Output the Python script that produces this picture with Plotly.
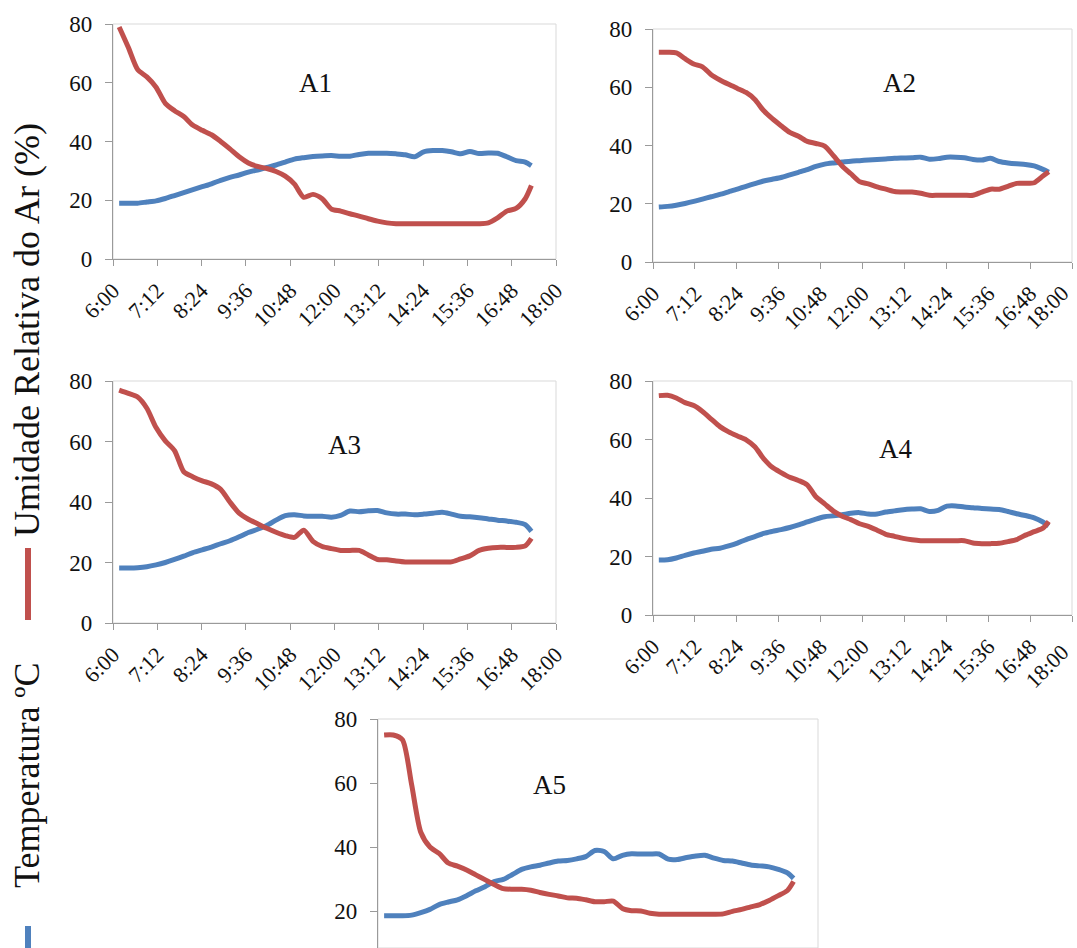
import plotly.graph_objects as go

# Measurement times (HH:MM), shared by the five sites
times = ["06:10", "06:25", "06:40", "06:55", "07:10", "07:25", "07:40", "07:55",
         "08:10", "08:25", "08:40", "08:55", "09:10", "09:25", "09:40", "09:55",
         "10:10", "10:25", "10:40", "10:55", "11:10", "11:25", "11:40", "11:55",
         "12:10", "12:25", "12:40", "12:55", "13:10", "13:25", "13:40", "13:55",
         "14:10", "14:25", "14:40", "14:55", "15:10", "15:25", "15:40", "15:55",
         "16:10", "16:25", "16:40", "16:55", "17:10", "17:20"]

# Relative air humidity (%)
rh_a1 = [79, 72, 64.5, 62, 58.5, 53, 50.5, 48.5, 45.5, 43.8, 42.3, 40, 37.5, 34.8, 32.7, 31.5,
         30.8, 29.8, 28.2, 25.5, 21, 22, 20.5, 17, 16.3, 15.4, 14.6, 13.7, 12.9, 12.3, 12, 12,
         12, 12, 12, 12, 12, 12, 12, 12, 12.3, 14, 16.3, 17.2, 20.5, 25]
rh_a2 = [72, 72, 71.8, 69.8, 68, 67, 64.3, 62.5, 61, 59.6, 58.2, 55.8, 52, 49.2, 46.8, 44.5,
         43.2, 41.4, 40.7, 39.8, 36.5, 33, 30.3, 27.6, 26.8, 25.8, 25, 24.2, 24, 24, 23.6, 22.9,
         22.9, 22.9, 22.9, 22.9, 22.9, 24, 25, 25, 26, 27, 27, 27.2, 29.5, 31]
rh_a3 = [77, 75.9, 74.7, 71, 64.6, 60.2, 57, 50, 48.3, 47, 46, 44.2, 40, 36.3, 34.3, 32.8,
         31.3, 30, 28.9, 28.3, 30.7, 27, 25.3, 24.6, 24, 24, 24, 22.5, 21, 20.9, 20.5, 20.2,
         20.2, 20.2, 20.2, 20.2, 20.2, 21.2, 22.2, 24, 24.7, 25, 25, 25, 25.5, 28]
rh_a4 = [75, 75.1, 74.2, 72.6, 71.6, 69.6, 67, 64.4, 62.6, 61.2, 59.9, 57.5, 53.5, 50.5, 48.7, 47.1,
         46, 44.5, 40.4, 38, 35.5, 33.8, 32.6, 31.2, 30.3, 29, 27.6, 26.9, 26.2, 25.7, 25.4, 25.4,
         25.4, 25.4, 25.4, 25.4, 24.6, 24.4, 24.4, 24.5, 25.1, 25.8, 27.3, 28.5, 29.7, 32]
rh_a5 = [75, 75, 73.5, 59.5, 44.6, 40, 38, 35, 34, 32.8, 31.3, 29.8, 28.3, 27, 26.8, 26.8,
         26.5, 25.8, 25.2, 24.7, 24.1, 24, 23.5, 22.9, 22.9, 23.1, 20.8, 20.1, 20, 19.3, 19, 19,
         19, 19, 19, 19, 19, 19.1, 19.9, 20.5, 21.3, 22, 23.3, 24.8, 26.4, 29.2]

# Air temperature (ºC)
t_a1 = [19, 19, 19, 19.4, 19.8, 20.6, 21.6, 22.6, 23.6, 24.6, 25.6, 26.8, 27.8, 28.6, 29.6, 30.3,
        31.2, 32, 33, 34, 34.5, 34.9, 35.1, 35.2, 35, 35, 35.6, 36, 36, 36, 35.8, 35.5,
        34.8, 36.5, 36.9, 36.9, 36.5, 35.8, 36.6, 35.9, 36.1, 36, 34.8, 33.5, 33, 31.8]
t_a2 = [18.9, 19.1, 19.5, 20.1, 20.8, 21.6, 22.4, 23.2, 24.1, 25, 26, 26.9, 27.8, 28.4, 29, 29.9,
        30.8, 31.7, 32.8, 33.6, 34, 34.3, 34.6, 34.8, 35, 35.2, 35.4, 35.6, 35.7, 35.8, 36, 35.3,
        35.5, 36, 36, 35.8, 35.2, 35, 35.6, 34.5, 34, 33.7, 33.5, 33, 31.8, 30.8]
t_a3 = [18.2, 18.2, 18.3, 18.6, 19.2, 20, 21, 22.1, 23.3, 24.2, 25.1, 26.2, 27.2, 28.5, 29.9, 31,
        32.2, 34, 35.5, 35.8, 35.4, 35.3, 35.3, 35, 35.6, 37, 36.8, 37.1, 37.2, 36.4, 36, 36,
        35.8, 36, 36.3, 36.6, 36, 35.3, 35.1, 34.8, 34.4, 34, 33.7, 33.3, 32.5, 30.3]
t_a4 = [18.8, 18.9, 19.5, 20.4, 21.2, 21.8, 22.5, 22.8, 23.6, 24.6, 25.8, 26.8, 27.9, 28.6, 29.2, 29.9,
        30.8, 31.8, 32.8, 33.6, 33.9, 34.3, 34.8, 35, 34.5, 34.5, 35.2, 35.6, 36, 36.2, 36.3, 35.4,
        35.8, 37.2, 37.3, 36.9, 36.7, 36.4, 36.2, 36.1, 35.4, 34.6, 34, 33.2, 31.8, 30.4]
t_a5 = [18.5, 18.5, 18.5, 18.7, 19.5, 20.5, 22, 22.8, 23.5, 24.8, 26.3, 27.6, 29.2, 29.9, 31.4, 33,
        33.8, 34.3, 35, 35.6, 35.8, 36.3, 37, 38.9, 38.6, 36.3, 37.4, 37.9, 37.8, 37.8, 37.8, 36.2,
        36.1, 36.7, 37.2, 37.4, 36.5, 35.8, 35.6, 35, 34.4, 34.1, 33.8, 33, 31.9, 30.2]

site_names = ["A1", "A2", "A3", "A4", "A5"]
rh_series = [rh_a1, rh_a2, rh_a3, rh_a4, rh_a5]
temp_series = [t_a1, t_a2, t_a3, t_a4, t_a5]

tick_hours = [6, 7.2, 8.4, 9.6, 10.8, 12, 13.2, 14.4, 15.6, 16.8, 18]
tick_labels = ["6:00", "7:12", "8:24", "9:36", "10:48", "12:00", "13:12", "14:24", "15:36", "16:48", "18:00"]
y_ticks = [0, 20, 40, 60, 80]

hours = [int(t[:2]) + int(t[3:]) / 60 for t in times]

W, H = 1077, 948
RED = "#C0504D"
BLUE = "#4F81BD"
FONT = "Liberation Serif"
TXT = "#111111"
AXC = "#9A9A9A"

# Panel boxes in pixels: left, right, top, bottom (bottom panel runs off the page)
boxes = [
    (113, 556, 24, 259),
    (653, 1072, 29, 262),
    (113, 556, 381, 623),
    (653, 1072, 381, 615),
    (378, 818, 719, 948),
]
title_pos = [(315, 83), (899, 83), (344, 445), (895, 449), (549, 785)]
# right-hand panels: last time label placed by hand so it stays on the page
edge_label_top = {1: 278, 3: 637}


def px_x(x):
    return x / W


def px_y(y):
    return 1 - y / H


fig = go.Figure()
layout = dict(
    template="none",
    width=W, height=H,
    margin=dict(l=0, r=0, t=0, b=0, pad=0, autoexpand=False),
    paper_bgcolor="white", plot_bgcolor="white",
    showlegend=False,
    font=dict(family=FONT, color=TXT),
    shapes=[], annotations=[],
)

for i, (name, rh, tp, box) in enumerate(zip(site_names, rh_series, temp_series, boxes)):
    n = "" if i == 0 else str(i + 1)
    xa, ya = "x" + n, "y" + n
    left, right, top, bottom = box

    fig.add_trace(go.Scatter(x=hours, y=tp, mode="lines", xaxis=xa, yaxis=ya,
                             line=dict(color=BLUE, width=5, shape="spline", smoothing=0.7),
                             name="Temperatura ºC"))
    fig.add_trace(go.Scatter(x=hours, y=rh, mode="lines", xaxis=xa, yaxis=ya,
                             line=dict(color=RED, width=5, shape="spline", smoothing=0.7),
                             name="Umidade Relativa do Ar (%)"))

    last = i == 4
    if last:
        # lower part of this panel falls off the page
        yr = [80 - (bottom - top) / ((911 - 719) / 60), 80]
    else:
        yr = [0, 80]

    labels = list(tick_labels)
    if i in edge_label_top:
        labels[-1] = ""
        layout["annotations"].append(dict(
            text=tick_labels[-1], textangle=-45, x=px_x(1076), y=px_y(edge_label_top[i]),
            xref="paper", yref="paper", showarrow=False, xanchor="right", yanchor="top",
            font=dict(family=FONT, size=22, color=TXT)))

    layout["xaxis" + n] = dict(
        domain=[px_x(left), px_x(right)], anchor=ya, range=[6, 18], automargin=False,
        tickmode="array", tickvals=tick_hours, ticktext=labels, tickangle=-45,
        ticklabeloverflow="allow", ticklabelstandoff=3,
        showline=not last, linecolor=AXC, linewidth=1.3,
        ticks="" if last else "outside", ticklen=6, tickcolor=AXC, tickwidth=1.3,
        showticklabels=not last, tickfont=dict(family=FONT, size=22, color=TXT),
        showgrid=False, zeroline=False, fixedrange=True,
    )
    layout["yaxis" + n] = dict(
        domain=[px_y(bottom), px_y(top)], anchor=xa, range=yr, automargin=False,
        tickmode="array", tickvals=y_ticks, showline=True, linecolor=AXC, linewidth=1.3,
        ticks="outside", ticklen=7, tickcolor=AXC, tickwidth=1.3,
        ticklabeloverflow="allow", ticklabelstandoff=8,
        tickfont=dict(family=FONT, size=23, color=TXT),
        showgrid=False, zeroline=False, fixedrange=True,
    )
    # light plot-area border
    layout["shapes"].append(dict(type="rect", xref=xa + " domain", yref=ya + " domain",
                                 x0=0, x1=1, y0=0, y1=1, layer="below",
                                 line=dict(color="#D9D9D9", width=1)))
    tx, ty = title_pos[i]
    layout["annotations"].append(dict(text=name, x=px_x(tx), y=px_y(ty), xref="paper", yref="paper",
                                      showarrow=False, xanchor="center", yanchor="middle",
                                      font=dict(family=FONT, size=27, color=TXT)))

# Vertical legend at the left edge
layout["annotations"].append(dict(text="Umidade Relativa do Ar (%)", textangle=-90,
                                  x=px_x(27), y=px_y(330), xref="paper", yref="paper",
                                  showarrow=False, xanchor="center", yanchor="middle",
                                  font=dict(family=FONT, size=36, color=TXT)))
layout["annotations"].append(dict(text="Temperatura ºC", textangle=-90,
                                  x=px_x(27), y=px_y(775), xref="paper", yref="paper",
                                  showarrow=False, xanchor="center", yanchor="middle",
                                  font=dict(family=FONT, size=36, color=TXT)))
layout["shapes"].append(dict(type="line", xref="paper", yref="paper",
                             x0=px_x(28), x1=px_x(28), y0=px_y(548), y1=px_y(620),
                             line=dict(color=RED, width=6)))
layout["shapes"].append(dict(type="line", xref="paper", yref="paper",
                             x0=px_x(28), x1=px_x(28), y0=px_y(926), y1=px_y(960),
                             line=dict(color=BLUE, width=6)))

fig.update_layout(**layout)
fig.write_html("out.html")
